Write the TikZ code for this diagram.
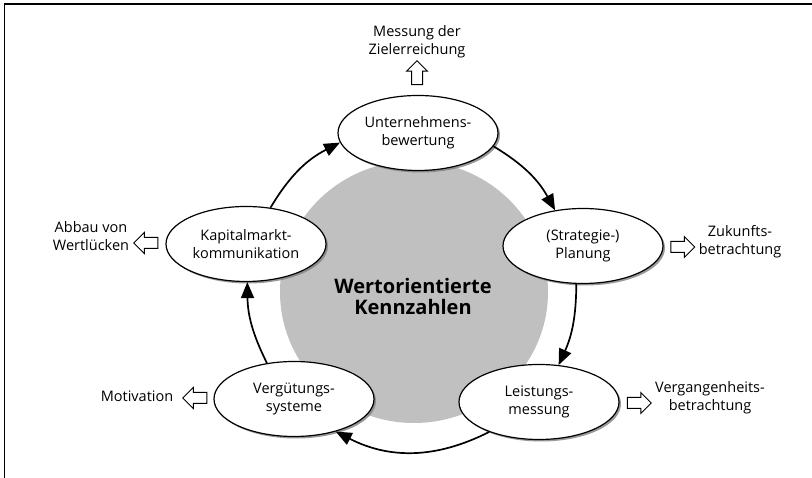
\documentclass[tikz,border=0pt]{standalone}
\usepackage{fontspec}
\setmainfont{Open Sans}
\usetikzlibrary{shapes.geometric,shapes.arrows,arrows.meta,shadows}
\definecolor{kzgray}{RGB}{192,192,192}
\tikzset{
  stage/.style={ellipse, draw, line width=1.2pt, fill=white, minimum width=160pt,
    minimum height=75pt, inner sep=0pt, align=center,
    font=\fontsize{14.5}{18}\selectfont,
    drop shadow={shadow xshift=2pt, shadow yshift=-2pt, opacity=.8}},
  cycle/.style={line width=1.7pt, -{Triangle[length=16pt,width=13pt]}},
  outarrow/.style={single arrow, draw, line width=1pt, fill=white,
    minimum height=24pt, inner sep=5pt, single arrow head extend=5pt},
  note/.style={align=center, font=\fontsize{14.5}{18}\selectfont},
}

\begin{document}
\begin{tikzpicture}[x=1pt,y=1pt]
\useasboundingbox (0,0) rectangle (812,478);
\draw[line width=1.2pt] (4.5,0) |- (812,474);

\node[ellipse, fill=kzgray, minimum width=268pt, minimum height=262pt] (core) at (414,186) {};
\node[align=center, font=\fontsize{20}{21}\selectfont\bfseries] (kz) at (413,181.5) {Wertorientierte\\Kennzahlen};

\node[stage] (ub) at (418,345) {Unternehmens-\\bewertung};
\node[stage] (pl) at (583,232) {(Strategie-)\\Planung};
\node[stage] (ls) at (539,76) {Leistungs-\\messung};
\node[stage] (vg) at (294,79) {Vergütungs-\\systeme};
\node[stage] (kk) at (246,234) {Kapitalmarkt-\\kommunikation};

\draw[cycle] (ub.-10) to[bend left=15] (pl.128);
\draw[cycle] (pl.-100) to[bend left=12] (ls.62);
\draw[cycle] (ls.211) to[bend left=27] (vg.-38);
\draw[cycle] (vg.127) to[bend left=13] (kk.-88);
\draw[cycle] (kk.56) to[bend left=16] (ub.187);

\node[outarrow, shape border rotate=90] (a-ub) at (417,402.5) {};
\node[outarrow] (a-pl) at (680,231) {};
\node[outarrow] (a-ls) at (636.5,75) {};
\node[outarrow, shape border rotate=180] (a-vg) at (197.5,80) {};
\node[outarrow, shape border rotate=180] (a-kk) at (148.5,235) {};

\node[note] (t-ub) at (417,436.5) {Messung der\\Zielerreichung};
\node[note] (t-pl) at (740,236) {Zukunfts-\\betrachtung};
\node[note] (t-ls) at (710,80.5) {Vergangenheits-\\betrachtung};
\node[note] (t-vg) at (137,82) {Motivation};
\node[note] (t-kk) at (91,241.5) {Abbau von\\Wertlücken};
\end{tikzpicture}
\end{document}
